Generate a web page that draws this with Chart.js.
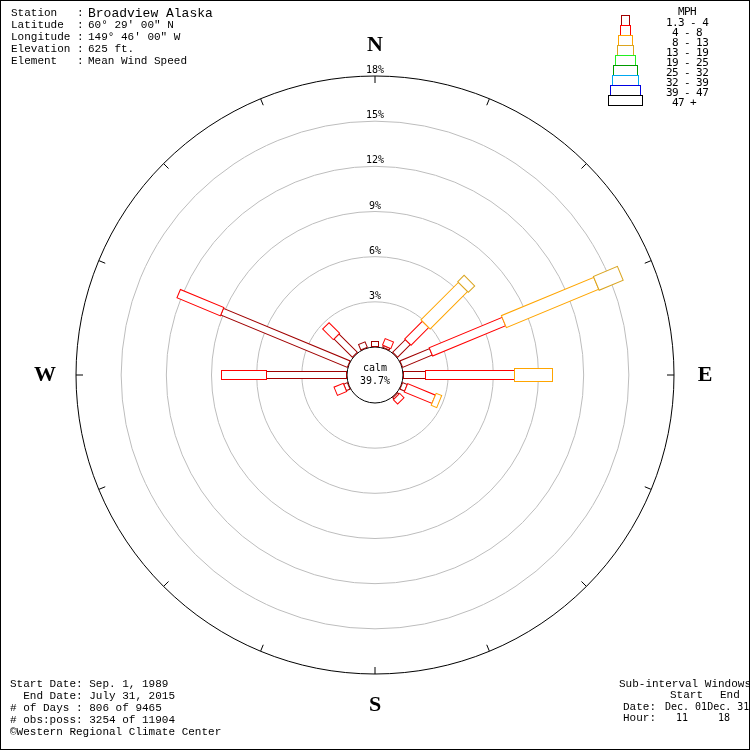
<!DOCTYPE html>
<html>
<head>
<meta charset="utf-8">
<script src="https://cdn.jsdelivr.net/npm/chart.js@4.4.1/dist/chart.umd.min.js"></script>
<style>
  body { margin: 0; background: #fff; }
  #wrap { position: relative; width: 750px; height: 750px; overflow: hidden; background: #fff; }
  #rose { position: absolute; left: 0; top: 0; }
  #frame { position: absolute; left: 0; top: 0; width: 748px; height: 748px; border: 1px solid #000; pointer-events: none; }
  .t { position: absolute; white-space: pre; color: #000; line-height: 1; transform: translateY(-50%);
       font-family: "Liberation Mono", "DejaVu Sans Mono", monospace; font-size: 11px; }
  .big { font-size: 13px; }
  .sm { font-family: "DejaVu Sans Mono", monospace; font-size: 10px; }
  .leg { font-family: "DejaVu Sans Mono", monospace; font-size: 11px; letter-spacing: -0.6px; }
</style>
</head>
<body>
<div id="wrap">
  <canvas id="rose" width="750" height="750"></canvas>
  <div id="texts"></div>
  <div id="frame"></div>
</div>
<script>
const directions = ['N', 'NNE', 'NE', 'ENE', 'E', 'ESE', 'SE', 'SSE', 'S', 'SSW', 'SW', 'WSW', 'W', 'WNW', 'NW', 'NNW'];
const speedClasses = ['1.3 - 4', ' 4 - 8', ' 8 - 13', '13 - 19', '19 - 25', '25 - 32', '32 - 39', '39 - 47', ' 47 +'];

// percent of observations per direction (N, then clockwise) for each speed class
const mph1to4   = [0.3, 0.15, 1.2, 2.12, 1.46, 0.3, 0.15, 0, 0, 0, 0, 0.25, 5.33, 9.13, 1.7, 0.4];
const mph4to8   = [0, 0.45, 1.65, 5.22, 5.91, 2.0, 0.4, 0, 0, 0, 0, 0.65, 2.95, 3.07, 1.0, 0];
const mph8to13  = [0, 0, 3.5, 6.66, 2.5, 0.45, 0, 0, 0, 0, 0, 0, 0, 0, 0, 0];
const mph13to19 = [0, 0, 0.65, 1.76, 0, 0, 0, 0, 0, 0, 0, 0, 0, 0, 0, 0];
const mph19to25 = [0, 0, 0, 0, 0, 0, 0, 0, 0, 0, 0, 0, 0, 0, 0, 0];
const mph25to32 = [0, 0, 0, 0, 0, 0, 0, 0, 0, 0, 0, 0, 0, 0, 0, 0];
const mph32to39 = [0, 0, 0, 0, 0, 0, 0, 0, 0, 0, 0, 0, 0, 0, 0, 0];
const mph39to47 = [0, 0, 0, 0, 0, 0, 0, 0, 0, 0, 0, 0, 0, 0, 0, 0];
const mph47up   = [0, 0, 0, 0, 0, 0, 0, 0, 0, 0, 0, 0, 0, 0, 0, 0];
const calmPercent = 39.7;

const ringTicks = [3, 6, 9, 12, 15, 18];
const ringLabels = ['3%', '6%', '9%', '12%', '15%', '18%'];

// styles
const classColors = ['#a00000', '#ff0000', '#ffa500', '#daa520', '#22ee22', '#009900', '#00a8f0', '#0000e0', '#000000'];
const barWidths = [7, 9, 13, 15, 19, 23, 25, 29, 33];
const calmRadius = 28;
const roseRadius = 299;

const series = [mph1to4, mph4to8, mph8to13, mph13to19, mph19to25, mph25to32, mph32to39, mph39to47, mph47up];

const roseDraw = {
  id: 'roseDraw',
  afterDatasetsDraw(chart) {
    const scale = chart.scales.r;
    const ctx = chart.ctx;
    const cx = scale.xCenter, cy = scale.yCenter;
    ctx.save();
    ctx.lineWidth = 1;

    // stacked bars, one rectangle per speed class
    for (let i = 0; i < directions.length; i++) {
      const angle = scale.getIndexAngle(i) - Math.PI / 2;
      let cum = 0;
      chart.data.datasets.forEach(function (ds, k) {
        const v = ds.data[i];
        if (!v) return;
        const r0 = Math.round(scale.getDistanceFromCenterForValue(cum)) + 0.5;
        cum += v;
        const r1 = Math.round(scale.getDistanceFromCenterForValue(cum)) + 0.5;
        const w = barWidths[k];
        ctx.save();
        ctx.translate(cx, cy);
        ctx.rotate(angle);
        ctx.fillStyle = '#fff';
        ctx.strokeStyle = ds.borderColor;
        ctx.fillRect(r0, -w / 2, r1 - r0, w);
        ctx.strokeRect(r0, -w / 2, r1 - r0, w);
        ctx.restore();
      });
    }

    // small marks on the outer ring
    const outer = scale.getDistanceFromCenterForValue(scale.max);
    ctx.strokeStyle = '#000';
    for (let i = 0; i < directions.length; i++) {
      const a = scale.getPointPosition(i, outer);
      const b = scale.getPointPosition(i, outer - 7);
      ctx.beginPath();
      ctx.moveTo(a.x, a.y);
      ctx.lineTo(b.x, b.y);
      ctx.stroke();
    }

    // ring labels
    ctx.fillStyle = '#000';
    ctx.font = "10px 'DejaVu Sans Mono'";
    ctx.textAlign = 'center';
    ctx.textBaseline = 'alphabetic';
    ringTicks.forEach(function (v, j) {
      const d = scale.getDistanceFromCenterForValue(v);
      ctx.fillText(ringLabels[j], cx, cy - d - 3);
    });

    // calm
    ctx.textBaseline = 'middle';
    ctx.fillText('calm', cx, cy - 7);
    ctx.fillText(calmPercent + '%', cx, cy + 6);

    // compass letters
    ctx.font = "bold 22px 'Liberation Serif'";
    for (let i = 0; i < directions.length; i += 4) {
      const p = scale.getPointPosition(i, outer + 31);
      ctx.fillText(directions[i], p.x, p.y);
    }

    // legend boxes
    chart.data.datasets.forEach(function (ds, k) {
      const w = barWidths[k] + 1;
      ctx.strokeStyle = ds.borderColor;
      ctx.strokeRect(Math.floor(625 - w / 2) + 0.5, 15.5 + 10 * k, w, 10);
    });
    ctx.restore();
  }
};

new Chart(document.getElementById('rose'), {
  type: 'radar',
  data: {
    labels: directions,
    datasets: speedClasses.map(function (name, k) {
      return {
        label: name,
        data: series[k],
        borderColor: classColors[k],
        backgroundColor: 'transparent',
        showLine: false,
        pointRadius: 0,
        pointHoverRadius: 0,
        pointHitRadius: 0
      };
    })
  },
  options: {
    responsive: false,
    animation: false,
    devicePixelRatio: 1,
    layout: { padding: 76 },
    plugins: { legend: { display: false }, tooltip: { enabled: false } },
    scales: {
      r: {
        min: -calmRadius * 18 / (roseRadius - calmRadius),
        max: 18,
        startAngle: 0,
        angleLines: { display: false },
        pointLabels: { display: false },
        ticks: { display: false },
        grid: {
          circular: true,
          lineWidth: 1,
          color: function (c) {
            const v = c.tick ? c.tick.value : null;
            return (v === 0 || v === 18) ? '#000' : '#bdbdbd';
          }
        },
        afterBuildTicks: function (axis) {
          axis.ticks = [0].concat(ringTicks).map(function (v) { return { value: v }; });
        }
      }
    }
  },
  plugins: [roseDraw]
});

// text blocks
const texts = document.getElementById('texts');
const addText = function (str, x, y, cls) {
  const el = document.createElement('div');
  el.className = 't ' + (cls || '');
  el.style.left = x + 'px';
  el.style.top = y + 'px';
  el.textContent = str;
  texts.appendChild(el);
  return el;
};

const stationKeys = ['Station', 'Latitude', 'Longitude', 'Elevation', 'Element'];
const stationValues = ['Broadview Alaska', '60\u00b0 29\' 00" N', '149\u00b0 46\' 00" W', '625 ft.', 'Mean Wind Speed'];
stationKeys.forEach(function (key, i) {
  addText(key.padEnd(10, ' ') + ': ', 11, 13 + 12 * i);
  addText(stationValues[i], 88, 13 + 12 * i, i === 0 ? 'big' : '');
});

addText('  MPH', 666, 11, 'leg');
speedClasses.forEach(function (name, k) {
  addText(name, 666, 22 + 10 * k, 'leg');
});

const footLeft = ['Start Date: Sep. 1, 1989', '  End Date: July 31, 2015', '# of Days : 806 of 9465', '# obs:poss: 3254 of 11904', '\u00a9Western Regional Climate Center'];
footLeft.forEach(function (line, i) {
  addText(line, 10, 684 + 12 * i);
});

addText('Sub-interval Windows', 619, 684);
addText('Start', 670, 695);
addText('End', 720, 695);
addText('Date:', 623, 707);
addText('Dec. 01Dec. 31', 665, 707, 'sm');
addText('Hour:', 623, 718);
addText('11', 676, 718, 'sm');
addText('18', 718, 718, 'sm');
</script>
</body>
</html>
